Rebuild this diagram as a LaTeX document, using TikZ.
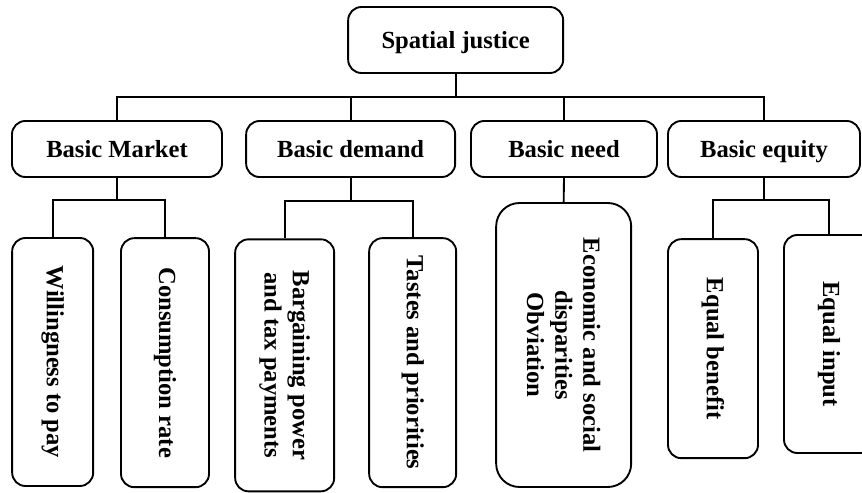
\documentclass[tikz,border=0pt]{standalone}
\usepackage{fontspec}
\setmainfont{Liberation Serif}
\begin{document}
\begin{tikzpicture}[box/.style={draw, line width=1.6pt, rounded corners=0.4cm, align=center, inner sep=0pt, font=\fontsize{21}{24}\selectfont\bfseries},
  hbox/.style={box, text height=16pt, text depth=2pt},
  vbox/.style={box, rotate=-90},
  link/.style={line width=1.6pt}]
\useasboundingbox (0,0) rectangle (25.86,-14.79);
% top
\node[hbox, minimum width=6.45cm, minimum height=1.98cm] (sj) at (13.67,-1.2) {Spatial justice};
% second row
\node[hbox, minimum width=6.3cm, minimum height=1.68cm] (bm) at (3.51,-4.47) {Basic Market};
\node[hbox, minimum width=6.27cm, minimum height=1.68cm] (bd) at (10.52,-4.47) {Basic demand};
\node[hbox, minimum width=5.58cm, minimum height=1.68cm] (bn) at (16.92,-4.47) {Basic need};
\node[hbox, minimum width=5.76cm, minimum height=1.68cm] (bq) at (22.92,-4.47) {Basic equity};
% third row (rotated, west is on top)
\node[vbox, minimum width=7.44cm, minimum height=2.43cm] (wp) at (1.58,-10.86) {Willingness to pay};
\node[vbox, minimum width=7.47cm, minimum height=2.64cm] (cr) at (4.95,-10.88) {Consumption rate};
\node[vbox, minimum width=7.56cm, minimum height=2.97cm] (bp) at (8.54,-10.96) {Bargaining power\\and tax payments};
\node[vbox, minimum width=7.47cm, minimum height=2.61cm] (tp) at (12.38,-10.88) {Tastes and priorities};
\node[vbox, rounded corners=0.7cm, minimum width=8.52cm, minimum height=4.05cm] (es) at (16.91,-10.35) {Economic and social\\disparities\\Obviation};
\node[vbox, minimum width=6.57cm, minimum height=2.7cm] (eb) at (21.39,-10.46) {Equal benefit};
\node[vbox, minimum width=6.54cm, minimum height=2.7cm] (ei) at (24.87,-10.32) {Equal input};
% connectors
\coordinate (bus) at (0,-2.91);
\draw[link] (sj.south) -- (sj.south |- bus);
\draw[link] (bm.north) |- (bus -| bq.north) -- (bq.north);
\draw[link] (bd.north) -- (bd.north |- bus);
\draw[link] (bn.north) -- (bn.north |- bus);
\draw[link] (bm.south) -- ++(0,-0.66) coordinate (bmj);
\draw[link] (wp.west) |- (bmj) -| (cr.west);
\draw[link] (bd.south) -- ++(0,-0.69) coordinate (bdj);
\draw[link] (bp.west) |- (bdj) -| (tp.west);
\draw[link] (bn.south) -- (es.west);
\draw[link] (bq.south) -- ++(0,-0.66) coordinate (bqj);
\draw[link] (eb.west) |- (bqj) -| (ei.west);
\end{tikzpicture}
\end{document}
